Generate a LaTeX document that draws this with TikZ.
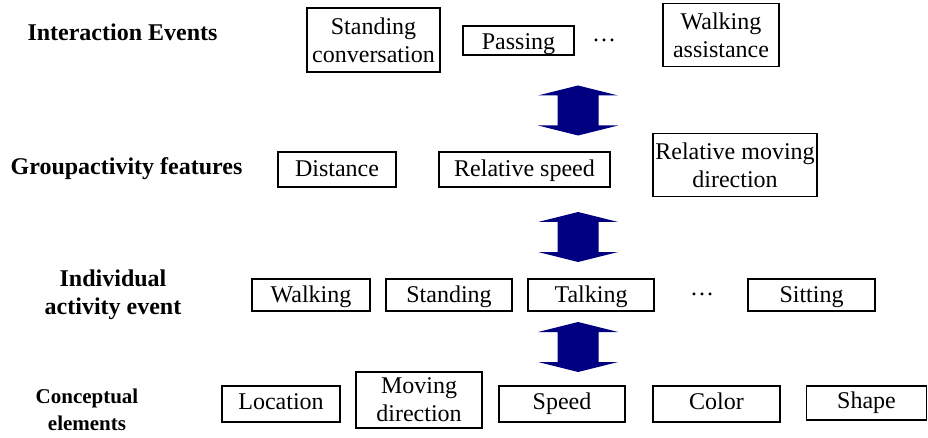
\documentclass[tikz,border=0pt]{standalone}
\usepackage{fontspec}
\setmainfont{Liberation Serif}
\definecolor{navyblue}{RGB}{0,0,128}
\begin{document}
\begin{tikzpicture}[x=1pt,y=-1pt,
  box/.style={draw,line width=1.2pt,inner sep=0pt,font=\fontsize{24}{28}\selectfont,text height=19pt,text depth=5pt},
  box2/.style={draw,line width=1.2pt,inner sep=0pt,align=center,font=\fontsize{24}{28}\selectfont},
  lbl/.style={font=\bfseries\fontsize{24}{28}\selectfont,align=center,inner sep=0pt},
  smalllbl/.style={font=\bfseries\fontsize{21}{27}\selectfont,align=center,inner sep=0pt},
  dotsnode/.style={inner sep=0pt,font=\fontsize{24}{28}\selectfont},
  dblarrow/.pic={\fill[navyblue] (0,-25) -- (40,-15) -- (20.5,-15) -- (20.5,15) -- (40,15) -- (0,25) -- (-40,15) -- (-20.5,15) -- (-20.5,-15) -- (-40,-15) -- cycle;}]
\useasboundingbox (0,0) rectangle (928,438);

% row labels
\node[lbl,anchor=base] (l1) at (122.5,41) {Interaction Events};
\node[lbl,anchor=base] (l2) at (126.5,175) {Groupactivity features};
\node[lbl] (l3) at (113,295) {Individual\\activity event};
\node[smalllbl] (l4) at (87,410) {Conceptual\\elements};

% interaction events
\node[box2,minimum width=133pt,minimum height=64pt] (sc) at (373.5,40) {Standing\\conversation};
\node[box,minimum width=111pt,minimum height=29pt,text height=24pt] (pass) at (518.5,40.5) {Passing};
\node[dotsnode] (d1) at (604,40) {…};
\node[box2,minimum width=116pt,minimum height=63pt] (wa) at (721,35) {Walking\\assistance};

% group activity features
\node[box,minimum width=118pt,minimum height=35pt] (dist) at (337,169.5) {Distance};
\node[box,minimum width=171pt,minimum height=35pt] (rs) at (524.5,169.5) {Relative speed};
\node[box2,minimum width=164pt,minimum height=63pt] (rmd) at (735,165) {Relative moving\\direction};

% individual activity events
\node[box,minimum width=118pt,minimum height=32pt] (walk) at (311,295) {Walking};
\node[box,minimum width=126pt,minimum height=32pt] (stand) at (449,295) {Standing};
\node[box,minimum width=126pt,minimum height=32pt] (talk) at (591,295) {Talking};
\node[dotsnode] (d2) at (702,294) {…};
\node[box,minimum width=127pt,minimum height=32pt] (sit) at (811.5,295) {Sitting};

% conceptual elements
\node[box,minimum width=118pt,minimum height=36pt,text height=16.5pt] (loc) at (281,404) {Location};
\node[box2,minimum width=126pt,minimum height=56pt] (md) at (419,400) {Moving\\direction};
\node[box,minimum width=126pt,minimum height=36pt,text height=16.5pt] (spd) at (562,404) {Speed};
\node[box,minimum width=127pt,minimum height=36pt,text height=16.5pt] (col) at (716.5,404) {Color};
\node[box,minimum width=120pt,minimum height=34pt,text height=16.5pt] (shp) at (866.5,403) {Shape};

% block arrows
\pic at (578,110.5) {dblarrow};
\pic at (578,237) {dblarrow};
\pic at (578,347) {dblarrow};
\end{tikzpicture}
\end{document}
